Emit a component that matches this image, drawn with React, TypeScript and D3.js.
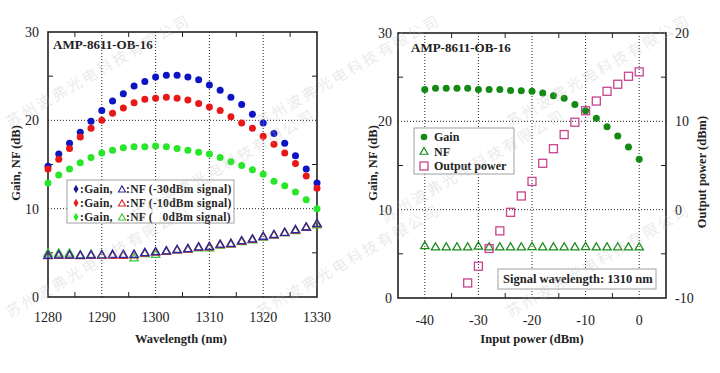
import React from 'react';
import * as d3 from 'd3';

// ---- left chart data: gain / NF vs wavelength ----
const wavelengths = [1280, 1282, 1284, 1286, 1288, 1290, 1292, 1294, 1296, 1298, 1300, 1302, 1304,
  1306, 1308, 1310, 1312, 1314, 1316, 1318, 1320, 1322, 1324, 1326, 1328, 1330];
const gainM30 = [14.8, 16.2, 17.4, 18.65, 19.9, 21.1, 22.2, 23.0, 23.9, 24.4, 24.9, 25.1, 25.1,
  24.9, 24.6, 24.0, 23.4, 22.6, 21.8, 20.7, 19.7, 18.5, 17.4, 16.0, 14.5, 12.9];
const gainM10 = [14.5, 15.6, 16.8, 18.1, 19.1, 20.0, 20.8, 21.4, 22.0, 22.4, 22.5, 22.6, 22.5,
  22.3, 21.9, 21.5, 21.1, 20.4, 19.7, 19.1, 18.2, 17.3, 16.3, 15.1, 13.7, 12.3];
const gain0 = [12.9, 13.8, 14.5, 15.2, 15.8, 16.3, 16.6, 16.9, 17.0, 17.0, 17.1, 17.0, 16.8,
  16.6, 16.4, 16.2, 15.8, 15.3, 14.9, 14.4, 13.9, 13.1, 12.6, 11.9, 11.0, 10.0];
const nfM30 = [4.75, 4.8, 4.8, 4.75, 4.8, 4.8, 4.85, 4.85, 4.85, 5.05, 5.15, 5.25, 5.4,
  5.5, 5.7, 5.75, 6.0, 6.1, 6.4, 6.6, 6.9, 7.1, 7.35, 7.65, 7.95, 8.35];
const nfM10 = [4.7, 4.75, 4.75, 4.7, 4.75, 4.75, 4.75, 4.75, 4.8, 5.0, 5.1, 5.2, 5.35,
  5.45, 5.65, 5.7, 5.95, 6.05, 6.35, 6.55, 6.85, 7.05, 7.3, 7.6, 7.9, 8.3];
const nf0 = [5.0, 5.0, 5.0, 4.8, 4.85, 4.8, 4.8, 4.8, 4.45, 4.95, 4.85, 5.2, 5.35,
  5.45, 5.6, 5.6, 5.9, 6.0, 6.3, 6.5, 6.8, 7.05, 7.3, 7.55, 7.95, 8.2];
const wlTicks = [1280, 1290, 1300, 1310, 1320, 1330];

// ---- right chart data: gain / NF / output vs input power ----
const inputPower = [-40, -38, -36, -34, -32, -30, -28, -26, -24, -22, -20, -18, -16, -14, -12,
  -10, -8, -6, -4, -2, 0];
const gainIn = [23.6, 23.75, 23.75, 23.75, 23.75, 23.6, 23.6, 23.6, 23.5, 23.45, 23.4, 23.2,
  22.9, 22.6, 21.9, 21.2, 20.35, 19.4, 18.35, 17.1, 15.7];
const nfIn = [5.95, 5.8, 5.8, 5.8, 5.8, 5.9, 5.8, 5.8, 5.8, 5.8, 5.85, 5.8, 5.8, 5.8, 5.8,
  5.85, 5.8, 5.8, 5.8, 5.8, 5.8];
const outInput = [-32, -30, -28, -26, -24, -22, -20, -18, -16, -14, -12, -10, -8, -6, -4, -2, 0];
const outPower = [-8.3, -6.4, -4.4, -2.4, -0.3, 1.55, 3.2, 5.25, 6.9, 8.5, 9.9, 11.2, 12.3,
  13.4, 14.2, 15.1, 15.6];
const inTicks = [-40, -30, -20, -10, 0];
const gainTicks = [0, 10, 20, 30];
const outTicks = [-10, 0, 10, 20];

const SERIF = '"Liberation Serif", "Times New Roman", serif';
const WM = '苏州波弗光电科技有限公司';

const tri = d3.symbol().type(d3.symbolTriangle).size(30)();

function Frame({ x, y, xMinor, yMinor, xGrid, yGrid }: any) {
  const [x0, x1] = x.range();
  const [y0, y1] = y.range();
  const tk = 5;
  return (
    <g>
      {xGrid.map((v: number) => (
        <line key={'gx' + v} x1={x(v)} x2={x(v)} y1={y0} y2={y1} stroke="#222" strokeDasharray="1,2" />
      ))}
      {yGrid.map((v: number) => (
        <line key={'gy' + v} x1={x0} x2={x1} y1={y(v)} y2={y(v)} stroke="#222" strokeDasharray="1,2" />
      ))}
      {xMinor.map((v: number) => (
        <g key={'mx' + v}>
          <line x1={x(v)} x2={x(v)} y1={y0} y2={y0 - tk} stroke="#222" />
          <line x1={x(v)} x2={x(v)} y1={y1} y2={y1 + tk} stroke="#222" />
        </g>
      ))}
      {yMinor.map((v: number) => (
        <g key={'my' + v}>
          <line x1={x0} x2={x0 + tk} y1={y(v)} y2={y(v)} stroke="#222" />
          <line x1={x1} x2={x1 - tk} y1={y(v)} y2={y(v)} stroke="#222" />
        </g>
      ))}
      <rect x={x0} y={y1} width={x1 - x0} height={y0 - y1} fill="none" stroke="#222" strokeWidth={1.6} />
    </g>
  );
}

export default function App() {
  // left chart scales
  const xL = d3.scaleLinear().domain([1280, 1330]).range([48, 317]);
  const yL = d3.scaleLinear().domain([0, 30]).range([297, 32]);
  // right chart scales
  const xR = d3.scaleLinear().domain([-45, 5]).range([398, 666]);
  const yR = d3.scaleLinear().domain([0, 30]).range([298, 33]);
  const yR2 = d3.scaleLinear().domain([-10, 20]).range([298, 33]);

  const dots = (xs: number[], ys: number[], xs_: any, ys_: any, color: string, r = 3.5) =>
    xs.map((v, i) => <circle key={i} cx={xs_(v)} cy={ys_(ys[i])} r={r} fill={color} />);
  const tris = (xs: number[], ys: number[], xs_: any, ys_: any, color: string) =>
    xs.map((v, i) => (
      <path key={i} d={tri} transform={`translate(${xs_(v)},${ys_(ys[i]) + 0.8})`}
        fill="none" stroke={color} strokeWidth={1.3} />
    ));

  // watermark, only whole copies that fit inside the picture
  const marks: any[] = [];
  for (let r = 0; r < 3; r++) {
    for (let c = 0; c < 3; c++) {
      const x0 = 10 + c * 250 + (r % 2) * 125;
      const y0 = 128 + r * 95;
      if (x0 + 200 > 720) continue;
      marks.push(
        <text key={r + '_' + c} x={x0} y={y0} transform={`rotate(-30 ${x0} ${y0})`}
          fontSize={15} letterSpacing={2.5} fill="#bdbdbd" opacity={0.3}
          fontFamily='"Noto Sans CJK SC", sans-serif'>{WM}</text>
      );
    }
  }

  const legL = [
    { dot: '#1a1a90', tri: '#2a2aa0', label: ':NF (-30dBm signal)' },
    { dot: '#e62020', tri: '#d83030', label: ':NF (-10dBm signal)' },
    { dot: '#2ee62e', tri: '#3cc83c', label: ':NF (   0dBm signal)' },
  ];

  return (
    <svg width={720} height={373} style={{ position: 'absolute', left: 0, top: 0, background: '#fff' }}
      fontFamily={SERIF}>
      {/* ---------- left chart ---------- */}
      <Frame x={xL} y={yL} xMinor={[1285, 1295, 1305, 1315, 1325]} yMinor={[5, 15, 25]}
        xGrid={[1290, 1300, 1310, 1320]} yGrid={[10, 20]} />
      {gainTicks.map(v => (
        <text key={'lyt' + v} x={39} y={yL(v) + 5} textAnchor="end" fontSize={14} fill="#222">{v}</text>
      ))}
      {wlTicks.map(v => (
        <text key={'lxt' + v} x={xL(v)} y={322} textAnchor="middle" fontSize={14} fill="#222">{v}</text>
      ))}
      <text x={181} y={343} textAnchor="middle" fontSize={12.5} fontWeight="bold" fill="#222">Wavelength (nm)</text>
      <text transform="translate(20,163) rotate(-90)" textAnchor="middle" fontSize={12.5} fontWeight="bold"
        fill="#222">Gain, NF (dB)</text>
      <text x={53} y={49} fontSize={13} fontWeight="bold" fill="#222">AMP-8611-OB-16</text>

      {dots(wavelengths, gainM30, xL, yL, '#0d14c4')}
      {dots(wavelengths, gainM10, xL, yL, '#e81818')}
      {dots(wavelengths, gain0, xL, yL, '#28e628')}
      {tris(wavelengths, nf0, xL, yL, '#3cc83c')}
      {tris(wavelengths, nfM10, xL, yL, '#d83030')}
      {tris(wavelengths, nfM30, xL, yL, '#2a2aa0')}

      <rect x={67} y={180} width={167} height={43} fill="#fff" stroke="#a0a0a0" />
      {legL.map((d, i) => {
        const cy = 189 + i * 14;
        return (
          <g key={'ll' + i}>
            <path d={d3.symbol().type(d3.symbolDiamond).size(22)()} transform={`translate(76,${cy})`} fill={d.dot} />
            <text x={80} y={cy + 4} fontSize={11.5} fontWeight="bold" fill="#222" letterSpacing={0.3}>:Gain,</text>
            <path d={d3.symbol().type(d3.symbolTriangle).size(22)()} transform={`translate(122,${cy + 1})`}
              fill="none" stroke={d.tri} strokeWidth={1.1} />
            <text x={126} y={cy + 4} fontSize={11.5} fontWeight="bold" fill="#222" letterSpacing={0.3}
              style={{ whiteSpace: 'pre' }}>{d.label}</text>
          </g>
        );
      })}

      {/* ---------- right chart ---------- */}
      <Frame x={xR} y={yR} xMinor={[-35, -25, -15, -5]} yMinor={[5, 15, 25]}
        xGrid={[-40, -30, -20, -10, 0]} yGrid={[10, 20]} />
      {gainTicks.map(v => (
        <text key={'ryt' + v} x={392} y={yR(v) + 5} textAnchor="end" fontSize={14} fill="#222">{v}</text>
      ))}
      {outTicks.map(v => (
        <text key={'ry2' + v} x={675} y={yR2(v) + 5} textAnchor="start" fontSize={14} fill="#222">{v}</text>
      ))}
      {inTicks.map(v => (
        <text key={'rxt' + v} x={xR(v)} y={325} textAnchor="middle" fontSize={14} fill="#222">{v}</text>
      ))}
      <text x={532} y={343} textAnchor="middle" fontSize={12.5} fontWeight="bold" fill="#222">Input power (dBm)</text>
      <text transform="translate(377,163) rotate(-90)" textAnchor="middle" fontSize={12.5} fontWeight="bold"
        fill="#222">Gain, NF (dB)</text>
      <text transform="translate(706,172) rotate(-90)" textAnchor="middle" fontSize={12.5} fontWeight="bold"
        fill="#222">Output power (dBm)</text>
      <text x={411} y={52} fontSize={13} fontWeight="bold" fill="#222">AMP-8611-OB-16</text>

      {dots(inputPower, gainIn, xR, yR, '#138a13')}
      {tris(inputPower, nfIn, xR, yR, '#1a8a1a')}
      {outInput.map((v, i) => (
        <rect key={'op' + i} x={xR(v) - 4} y={yR2(outPower[i]) - 4} width={8} height={8}
          fill="none" stroke="#c8448e" strokeWidth={1.3} />
      ))}

      <rect x={414} y={128} width={100} height={46} fill="#fff" stroke="#a0a0a0" />
      <circle cx={424} cy={137} r={3.3} fill="#138a13" />
      <text x={434} y={141} fontSize={12} fontWeight="bold" fill="#222">Gain</text>
      <path d={d3.symbol().type(d3.symbolTriangle).size(26)()} transform="translate(424,152)"
        fill="none" stroke="#1a8a1a" strokeWidth={1.2} />
      <text x={434} y={156} fontSize={12} fontWeight="bold" fill="#222">NF</text>
      <rect x={420} y={162} width={8} height={8} fill="none" stroke="#c8448e" strokeWidth={1.3} />
      <text x={434} y={170} fontSize={12} fontWeight="bold" fill="#222">Output power</text>

      <rect x={498} y={269} width={158} height={20} fill="#fff" stroke="#a0a0a0" />
      <text x={503} y={283} fontSize={12.5} fontWeight="bold" fill="#222">Signal wavelength: 1310 nm</text>

      <g pointerEvents="none">{marks}</g>
    </svg>
  );
}
